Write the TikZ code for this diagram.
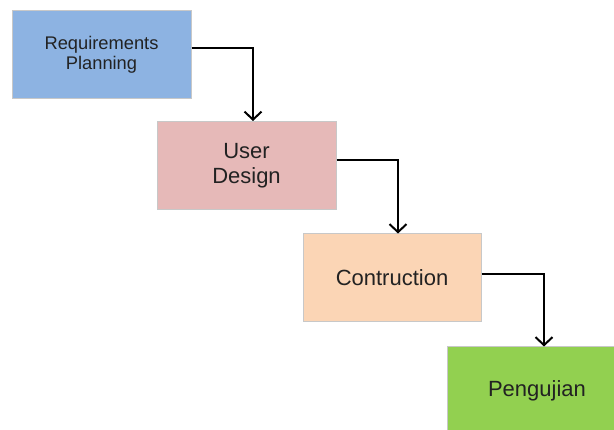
\documentclass[tikz,border=0pt]{standalone}
\usepackage{fontspec}
\newfontfamily\diagfont{Liberation Sans}
\usetikzlibrary{arrows.meta}
\definecolor{reqblue}{HTML}{8DB3E2}
\definecolor{designpink}{HTML}{E6B9B8}
\definecolor{buildpeach}{HTML}{FBD5B5}
\definecolor{testgreen}{HTML}{92D050}
\definecolor{boxedge}{HTML}{C8C8C8}
\definecolor{textdark}{HTML}{222222}
\begin{document}
\begin{tikzpicture}[
        x=1pt, y=-1pt,
        phase/.style={rectangle, draw=boxedge, line width=1pt, minimum width=179pt, minimum height=88pt, inner sep=0pt, align=center, text=textdark, font=\diagfont\fontsize{22}{25}\selectfont},
        flow/.style={-{Straight Barb[length=8pt, width=17pt, line width=2pt]}, line width=2pt, black}
    ]
        \useasboundingbox (0,0) rectangle (614,430);

        % Phases
        \node[phase, fill=reqblue, font=\diagfont\fontsize{18.3}{20.5}\selectfont] (req) at (101.5,55) {Requirements\\Planning};
        \node[phase, fill=designpink] (design) at (246.5,165.5) {User\\Design};
        \node[phase, fill=buildpeach, minimum width=178pt] (build) at (392,278) {Contruction};
        \node[phase, fill=testgreen] (test) at (537,391) {Pengujian};

        % Arrows
        \draw[flow] ([yshift=7pt]req.east) -| ([xshift=6.5pt]design.north);
        \draw[flow] ([yshift=5.5pt]design.east) -| ([xshift=6pt]build.north);
        \draw[flow] ([yshift=4pt]build.east) -| ([xshift=7pt]test.north);
    \end{tikzpicture}
\end{document}
